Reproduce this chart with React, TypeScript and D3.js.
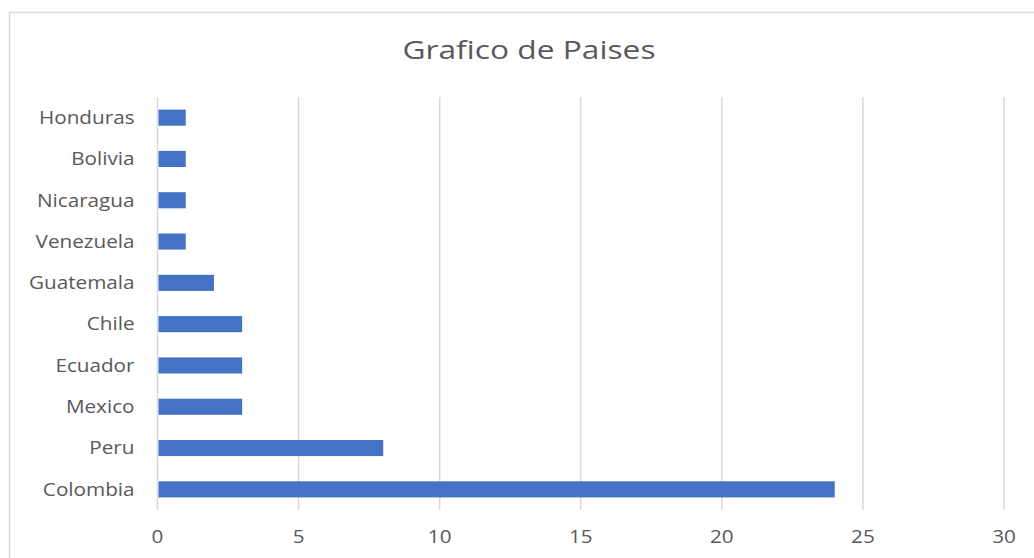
import React, { useEffect, useRef } from 'react'
import * as d3 from 'd3'

const countries = ['Honduras', 'Bolivia', 'Nicaragua', 'Venezuela', 'Guatemala', 'Chile', 'Ecuador', 'Mexico', 'Peru', 'Colombia']
const counts = [1, 1, 1, 1, 2, 3, 3, 3, 8, 24]
const xTicks = [0, 5, 10, 15, 20, 25, 30]

const width = 1034
const height = 558

export default function App() {
  const svgRef = useRef<SVGSVGElement | null>(null)

  useEffect(() => {
    const svg = d3.select(svgRef.current)
      .attr('width', width)
      .attr('height', height)
    svg.selectAll('*').remove()

    const font = "'Open Sans', 'Noto Sans', sans-serif"
    const textColor = '#595959'
    const stretch = 1.15 // the screenshot's text is a bit wider than Open Sans

    // chart area border (runs off the right/bottom edge like the screenshot)
    svg.append('rect')
      .attr('x', 9.5).attr('y', 12.5)
      .attr('width', width + 20).attr('height', height + 20)
      .attr('fill', '#fff')
      .attr('stroke', '#d9d9d9')
      .attr('stroke-width', 1.5)

    const x = d3.scaleLinear().domain([0, 30]).range([157.5, 1004])
    const y = d3.scaleBand().domain(countries).range([97, 510]).paddingInner(0.61).paddingOuter(0.305)

    // gridlines
    svg.append('g')
      .selectAll('line')
      .data(xTicks)
      .join('line')
      .attr('x1', d => x(d)).attr('x2', d => x(d))
      .attr('y1', 97).attr('y2', 510)
      .attr('stroke', '#d9d9d9')
      .attr('stroke-width', 1.5)

    // bars
    svg.append('g')
      .selectAll('rect')
      .data(countries)
      .join('rect')
      .attr('x', x(0) + 1)
      .attr('y', d => y(d)!)
      .attr('width', (d, i) => x(counts[i]) - x(0) - 1)
      .attr('height', y.bandwidth())
      .attr('fill', '#4472c4')

    // category labels
    svg.append('g')
      .selectAll('text')
      .data(countries)
      .join('text')
      .attr('transform', d => `translate(134.5, ${y(d)! + y.bandwidth() / 2}) scale(${stretch}, 1)`)
      .attr('dy', '0.35em')
      .attr('text-anchor', 'end')
      .attr('font-family', font)
      .attr('font-size', 18)
      .attr('fill', textColor)
      .text(d => d)

    // value axis labels
    svg.append('g')
      .selectAll('text')
      .data(xTicks)
      .join('text')
      .attr('transform', d => `translate(${x(d)}, 537) scale(${stretch}, 1)`)
      .attr('dy', '0.35em')
      .attr('text-anchor', 'middle')
      .attr('font-family', font)
      .attr('font-size', 18)
      .attr('fill', textColor)
      .text(d => d)

    svg.append('text')
      .attr('transform', `translate(529, 50) scale(1.22, 1)`)
      .attr('dy', '0.35em')
      .attr('text-anchor', 'middle')
      .attr('font-family', font)
      .attr('font-size', 26)
      .attr('fill', textColor)
      .text('Grafico de Paises')
  }, [])

  return (
    <svg ref={svgRef} style={{ position: 'absolute', left: 0, top: 0, display: 'block' }}></svg>
  )
}
